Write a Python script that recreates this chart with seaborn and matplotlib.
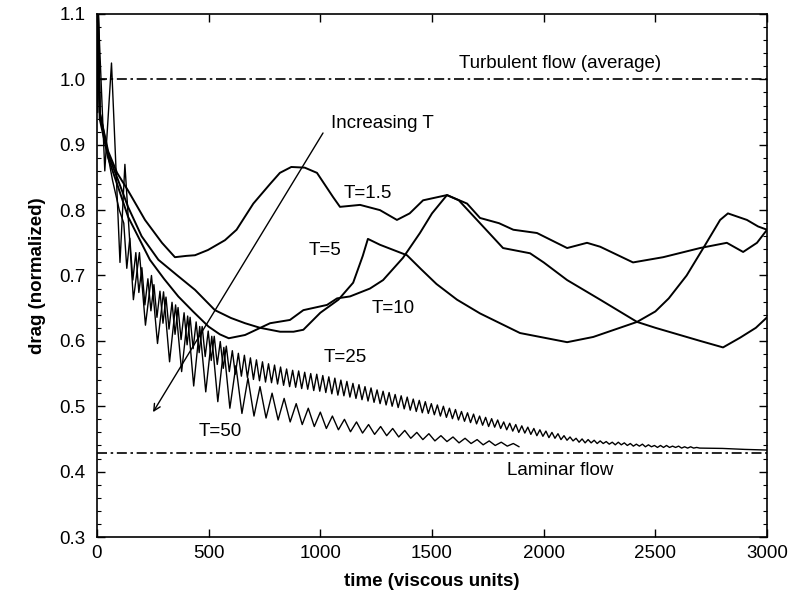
"""Drag history of the oscillated channel flow for several periods T (scanned figure)."""

import numpy as np
import pandas as pd
import matplotlib
matplotlib.use("Agg")
import matplotlib.pyplot as plt
from matplotlib.ticker import MultipleLocator
import seaborn as sns

# ---------------------------------------------------------------- data
TURBULENT = 1.0
LAMINAR = 0.428

T15_TIME = [0, 5, 12, 50, 90, 139, 215, 291, 349, 400, 439, 497, 573, 625, 700, 775,
            819, 870, 930, 985, 1057, 1088, 1178, 1267, 1343, 1400, 1460, 1567, 1657,
            1715, 1800, 1864, 1970, 2105, 2194, 2253, 2400, 2535, 2700, 2820, 2893,
            2955, 3000]
T15_DRAG = [0.95, 1.10, 0.95, 0.89, 0.857, 0.83, 0.785, 0.75, 0.728, 0.730, 0.731,
            0.739, 0.754, 0.77, 0.81, 0.84, 0.857, 0.866, 0.865, 0.857, 0.82, 0.805,
            0.808, 0.80, 0.785, 0.795, 0.815, 0.823, 0.81, 0.788, 0.78, 0.77, 0.765,
            0.742, 0.75, 0.744, 0.72, 0.728, 0.742, 0.75, 0.736, 0.75, 0.77]

T5_TIME = [0, 5, 12, 50, 90, 139, 200, 275, 360, 439, 528, 600, 663, 730, 820, 880,
           924, 1000, 1081, 1147, 1190, 1213, 1267, 1388, 1450, 1520, 1612, 1715,
           1894, 2105, 2222, 2418, 2500, 2560, 2640, 2720, 2790, 2825, 2910, 2960, 3000]
T5_DRAG = [0.95, 1.10, 0.95, 0.885, 0.85, 0.805, 0.76, 0.724, 0.70, 0.678, 0.647,
           0.635, 0.627, 0.62, 0.614, 0.614, 0.617, 0.643, 0.663, 0.689, 0.73, 0.756,
           0.747, 0.731, 0.71, 0.687, 0.663, 0.642, 0.612, 0.598, 0.606, 0.629, 0.645,
           0.665, 0.70, 0.745, 0.785, 0.795, 0.785, 0.775, 0.77]

T10_TIME = [0, 5, 12, 50, 90, 139, 237, 300, 364, 430, 499, 550, 590, 663, 775, 864,
            924, 1030, 1075, 1133, 1222, 1281, 1370, 1446, 1500, 1567, 1620, 1715,
            1818, 1939, 2000, 2105, 2253, 2418, 2500, 2610, 2700, 2803, 2880, 2950, 3000]
T10_DRAG = [0.95, 1.10, 0.94, 0.88, 0.84, 0.79, 0.724, 0.695, 0.668, 0.645, 0.622,
            0.61, 0.604, 0.609, 0.627, 0.632, 0.647, 0.655, 0.665, 0.668, 0.68, 0.693,
            0.727, 0.765, 0.795, 0.823, 0.815, 0.78, 0.742, 0.734, 0.72, 0.693, 0.663,
            0.629, 0.62, 0.609, 0.60, 0.59, 0.605, 0.62, 0.636]

# T=25: start-up transient, then one crest and one trough per forcing period
T25_HEAD_TIME = [0, 5, 15, 40, 70, 100]
T25_HEAD_DRAG = [0.95, 1.09, 0.94, 0.90, 0.845, 0.80]
T25_FIRST_PEAK = 120
T25_PERIOD = 27
T25_PEAKS = [0.780, 0.757, 0.735, 0.712, 0.695, 0.686, 0.676, 0.667, 0.659, 0.651,
             0.643, 0.636, 0.629, 0.622, 0.615, 0.607, 0.599, 0.592, 0.585, 0.581,
             0.578, 0.574, 0.571, 0.568, 0.565, 0.563, 0.560, 0.557, 0.555, 0.554,
             0.552, 0.550, 0.549, 0.547, 0.545, 0.543, 0.540, 0.538, 0.535, 0.533,
             0.530, 0.528, 0.525, 0.523, 0.521, 0.518, 0.516, 0.514, 0.511, 0.509,
             0.507, 0.504, 0.502, 0.500, 0.497, 0.495, 0.492, 0.490, 0.488, 0.485,
             0.483, 0.481, 0.479, 0.476, 0.474, 0.472, 0.470, 0.468, 0.466, 0.464,
             0.462, 0.460, 0.458, 0.455, 0.453, 0.451, 0.450, 0.449, 0.448, 0.447,
             0.446, 0.445, 0.445, 0.444, 0.443, 0.442, 0.442, 0.441, 0.440, 0.440,
             0.440, 0.439, 0.439, 0.438, 0.438, 0.437]
T25_TROUGHS = [0.711, 0.693, 0.674, 0.655, 0.646, 0.636, 0.627, 0.618, 0.610, 0.602,
               0.594, 0.588, 0.582, 0.576, 0.570, 0.564, 0.558, 0.553, 0.549, 0.546,
               0.544, 0.541, 0.539, 0.537, 0.536, 0.534, 0.532, 0.530, 0.529, 0.527,
               0.526, 0.524, 0.523, 0.521, 0.519, 0.517, 0.516, 0.514, 0.512, 0.510,
               0.508, 0.506, 0.504, 0.502, 0.500, 0.498, 0.496, 0.494, 0.492, 0.490,
               0.489, 0.487, 0.485, 0.483, 0.481, 0.479, 0.477, 0.475, 0.473, 0.471,
               0.469, 0.468, 0.466, 0.464, 0.462, 0.460, 0.459, 0.457, 0.455, 0.454,
               0.452, 0.451, 0.449, 0.448, 0.447, 0.445, 0.444, 0.444, 0.443, 0.443,
               0.442, 0.441, 0.441, 0.440, 0.439, 0.439, 0.438, 0.438, 0.437, 0.437,
               0.437, 0.437, 0.436, 0.436, 0.436, 0.436]
T25_TAIL_TIME = [2800, 2900, 3000]
T25_TAIL_DRAG = [0.4355, 0.434, 0.433]

# T=50: start-up transient, then trough / crest pairs until the run stops
T50_HEAD_TIME = [0, 6, 35, 65, 103, 125]
T50_HEAD_DRAG = [0.95, 1.10, 0.86, 1.025, 0.72, 0.87]
T50_FIRST_TROUGH = 163
T50_PERIOD = 54
T50_TROUGHS = [0.663, 0.624, 0.596, 0.568, 0.553, 0.531, 0.522, 0.507, 0.497, 0.489,
               0.485, 0.482, 0.479, 0.476, 0.472, 0.469, 0.466, 0.464, 0.461, 0.459,
               0.457, 0.455, 0.453, 0.451, 0.449, 0.447, 0.446, 0.444, 0.443, 0.441,
               0.440, 0.439]
T50_PEAKS = [0.735, 0.700, 0.675, 0.655, 0.638, 0.622, 0.607, 0.590, 0.562, 0.543,
             0.530, 0.520, 0.512, 0.504, 0.497, 0.491, 0.485, 0.480, 0.476, 0.472,
             0.469, 0.466, 0.463, 0.460, 0.458, 0.455, 0.453, 0.451, 0.449, 0.447,
             0.445, 0.443]
T50_TAIL_TIME = [1890]
T50_TAIL_DRAG = [0.438]


def alternating(first_time, period, first_vals, second_vals):
    """Place extrema half a period apart: first, second, first, second..."""
    n = min(len(first_vals), len(second_vals))
    vals = np.empty(2 * n)
    vals[0::2] = first_vals[:n]
    vals[1::2] = second_vals[:n]
    times = first_time + 0.5 * period * np.arange(2 * n)
    return times, vals


def main() -> None:
    sns.set_theme(style="ticks")
    plt.rcParams["font.family"] = ["Liberation Sans", "DejaVu Sans"]
    plt.rcParams["axes.edgecolor"] = "black"
    plt.rcParams["axes.linewidth"] = 1.2
    for key in ("text.color", "axes.labelcolor", "xtick.color", "ytick.color"):
        plt.rcParams[key] = "black"

    t25, d25 = alternating(T25_FIRST_PEAK, T25_PERIOD, T25_PEAKS, T25_TROUGHS)
    t50, d50 = alternating(T50_FIRST_TROUGH, T50_PERIOD, T50_TROUGHS, T50_PEAKS)

    runs = {
        "T=1.5": (T15_TIME, T15_DRAG),
        "T=5": (T5_TIME, T5_DRAG),
        "T=10": (T10_TIME, T10_DRAG),
        "T=25": (np.r_[T25_HEAD_TIME, t25, T25_TAIL_TIME],
                 np.r_[T25_HEAD_DRAG, d25, T25_TAIL_DRAG]),
        "T=50": (np.r_[T50_HEAD_TIME, t50, T50_TAIL_TIME],
                 np.r_[T50_HEAD_DRAG, d50, T50_TAIL_DRAG]),
    }

    fig, ax = plt.subplots(figsize=(7.91, 5.98), dpi=100)
    fig.subplots_adjust(left=0.1226, right=0.9697, bottom=0.102, top=0.9766)

    for name, (t, d) in runs.items():
        df = pd.DataFrame({"time": t, "drag": d})
        lw = 1.0 if name in ("T=25", "T=50") else 1.4
        sns.lineplot(data=df, x="time", y="drag", ax=ax, color="black", lw=lw,
                     estimator=None, sort=False, errorbar=None)

    dashdot = (0, (6, 2.2, 1.5, 2.2))
    ax.axhline(TURBULENT, color="black", lw=1.2, ls=dashdot)
    ax.axhline(LAMINAR, color="black", lw=1.2, ls=dashdot)

    txt = dict(fontsize=13.5, color="black", ha="center", va="center")
    ax.text(2073, 1.025, "Turbulent flow (average)", **txt)
    ax.text(2073, 0.402, "Laminar flow", **txt)
    ax.text(1214, 0.826, "T=1.5", **txt)
    ax.text(1021, 0.739, "T=5", **txt)
    ax.text(1326, 0.650, "T=10", **txt)
    ax.text(1111, 0.574, "T=25", **txt)
    ax.text(551, 0.461, "T=50", **txt)
    ax.text(1050, 0.933, "Increasing T", fontsize=13.5, color="black",
            ha="left", va="center")
    ax.annotate("", xy=(251, 0.491), xytext=(1012, 0.918),
                arrowprops=dict(arrowstyle="->", color="black", lw=1.0,
                                mutation_scale=12, shrinkA=0, shrinkB=0))

    ax.set_xlim(0, 3000)
    ax.set_ylim(0.3, 1.1)
    ax.xaxis.set_major_locator(MultipleLocator(500))
    ax.yaxis.set_major_locator(MultipleLocator(0.1))
    ax.yaxis.set_minor_locator(MultipleLocator(0.02))
    ax.yaxis.set_major_formatter(plt.FormatStrFormatter("%.1f"))
    ax.tick_params(which="both", direction="in", top=True, right=True,
                   colors="black", labelsize=13.5)
    ax.tick_params(which="major", length=6, width=1.0)
    ax.tick_params(which="minor", length=3, width=0.8)
    ax.tick_params(axis="y", pad=8)
    ax.tick_params(axis="x", pad=6)
    for s in ax.spines.values():
        s.set_visible(True)
        s.set_color("black")

    ax.set_xlabel("time (viscous units)", fontsize=13.5, fontweight="bold",
                  labelpad=8, color="black")
    ax.set_ylabel("drag (normalized)", fontsize=13.5, fontweight="bold",
                  labelpad=10, color="black")

    fig.savefig("out.png", dpi=100)
    plt.close(fig)


if __name__ == "__main__":
    main()
